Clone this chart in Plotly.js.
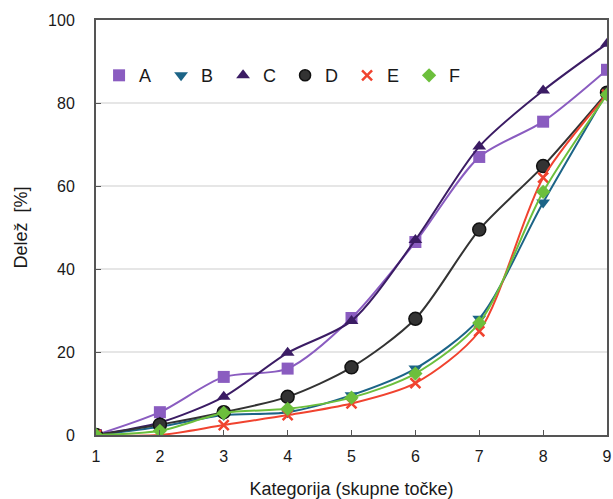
<!DOCTYPE html>
<html>
<head>
<meta charset="utf-8">
<script src="https://cdn.plot.ly/plotly-3.0.1.min.js"></script>
<style>html,body{margin:0;padding:0;background:#fff;}#chart{width:613px;height:499px;}</style>
</head>
<body>
<div id="chart"></div>
<script>
const categories = [1, 2, 3, 4, 5, 6, 7, 8, 9];
const seriesNames = ["A", "B", "C", "D", "E", "F"];
const valuesA = [0, 5.5, 14, 16, 28.2, 46.5, 67, 75.5, 88];
const valuesB = [0, 2, 4.8, 5.5, 9.6, 16, 28, 56, 82.5];
const valuesC = [0, 3, 9.2, 19.8, 27.5, 47, 69.5, 83, 94.3];
const valuesD = [0, 2.5, 5.5, 9.2, 16.3, 28, 49.5, 64.8, 82.5];
const valuesE = [0, 0, 2.4, 4.8, 7.6, 12.5, 25, 62, 82];
const valuesF = [0, 1, 5.3, 6.3, 9, 14.8, 27, 58.6, 82];
const yTicks = [0, 20, 40, 60, 80, 100];

const allValues = [valuesA, valuesB, valuesC, valuesD, valuesE, valuesF];
const colors = ["#8a5cc0", "#1c6487", "#3b1c64", "#333333", "#f0432f", "#6cbf3c"];
const symbols = ["square", "triangle-down", "triangle-up", "circle", "x-thin", "diamond"];
const sizes = [12, 12, 12, 13, 10, 11];

function makeMarker(i, scale) {
  const m = {symbol: symbols[i], size: sizes[i] * scale, color: colors[i]};
  if (i === 3) m.line = {color: "#111", width: 1.5};
  if (i === 4) m.line = {color: colors[i], width: 2.5};
  return m;
}

const traces = [];
allValues.forEach((vals, i) => {
  traces.push({
    x: categories, y: vals, name: seriesNames[i], type: "scatter",
    mode: "lines+markers", showlegend: false,
    line: {color: colors[i], width: 2, shape: "spline", smoothing: 0.8},
    marker: makeMarker(i, 1)
  });
});
allValues.forEach((vals, i) => {
  traces.push({
    x: [null], y: [null], name: seriesNames[i], type: "scatter",
    mode: "markers", showlegend: true, marker: makeMarker(i, i === 3 ? 0.85 : 1)
  });
});

const layout = {
  width: 613, height: 499,
  margin: {l: 96, r: 6, t: 20, b: 64},
  paper_bgcolor: "#fff", plot_bgcolor: "#fff",
  font: {family: "Liberation Sans, Arial, sans-serif", size: 16, color: "#1a1a1a"},
  showlegend: true,
  legend: {
    orientation: "h", x: 0.006, y: 0.866, xanchor: "left", yanchor: "middle",
    font: {size: 18, color: "#1a1a1a"}, bgcolor: "rgba(0,0,0,0)",
    entrywidth: 17, entrywidthmode: "pixels", itemwidth: 30
  },
  xaxis: {
    range: [1, 9], tickvals: categories, ticks: "inside", ticklen: 5,
    tickcolor: "#555", showline: true, linecolor: "#555", linewidth: 2,
    mirror: true, showgrid: false, zeroline: false, ticklabelstandoff: 6,
    tickfont: {size: 16},
    title: {text: "Kategorija (skupne točke)", font: {size: 18}, standoff: 18}
  },
  yaxis: {
    range: [0, 100], tickvals: yTicks, ticks: "inside", ticklen: 5,
    tickcolor: "#555", showline: true, linecolor: "#555", linewidth: 2,
    mirror: true, showgrid: true, gridcolor: "#e6e6e6", gridwidth: 1.5,
    zeroline: false, ticklabelstandoff: 16, tickfont: {size: 16},
    title: {text: "Delež  [%]", font: {size: 18}, standoff: 16}
  }
};

Plotly.newPlot("chart", traces, layout, {displayModeBar: false, staticPlot: true});
</script>
</body>
</html>
